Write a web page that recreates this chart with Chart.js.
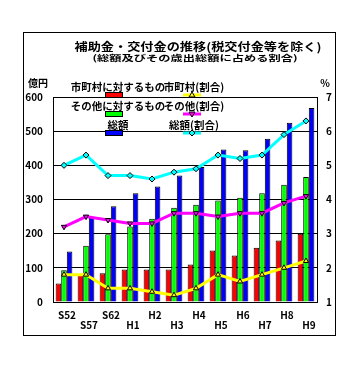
<!DOCTYPE html>
<html lang="ja">
<head>
  <meta charset="UTF-8">
  <title>補助金・交付金の推移</title>
  <script src="https://cdn.jsdelivr.net/npm/chart.js"></script>
  <style>
    html, body { margin: 0; padding: 0; background: #fff; }
    #wrap { width: 352px; height: 382px; }
  </style>
</head>
<body>
  <div id="wrap"><canvas id="chart" width="352" height="382"></canvas></div>

  <script>
    const labels = ['S52', 'S57', 'S62', 'H1', 'H2', 'H3', 'H4', 'H5', 'H6', 'H7', 'H8', 'H9'];
    // 億円
    const shichoson = [54, 81, 84, 95, 95, 95, 110, 151, 136, 159, 180, 200];
    const sonota = [93, 165, 198, 221, 244, 276, 285, 297, 305, 318, 343, 366];
    const sogaku = [148, 246, 280, 318, 338, 370, 395, 446, 444, 478, 525, 568];
    // 割合 %
    const shichosonPct = [1.8, 1.8, 1.4, 1.4, 1.3, 1.2, 1.4, 1.8, 1.6, 1.8, 2.0, 2.2];
    const sonotaPct = [3.2, 3.5, 3.4, 3.3, 3.3, 3.6, 3.6, 3.5, 3.6, 3.6, 3.9, 4.1];
    const sogakuPct = [5.0, 5.3, 4.7, 4.7, 4.6, 4.8, 4.9, 5.3, 5.2, 5.3, 5.9, 6.3];

    const FONT = "'Noto Sans CJK JP', 'Noto Sans', sans-serif";

    // 枠・タイトル・凡例は手描き
    const decor = {
      id: 'decor',
      beforeDraw(chart) {
        const ctx = chart.ctx;
        ctx.save();
        ctx.fillStyle = '#fff';
        ctx.fillRect(0, 0, chart.width, chart.height);
        ctx.strokeStyle = '#000';
        ctx.lineWidth = 1;
        ctx.strokeRect(23.5, 32.5, 312, 303);
        ctx.restore();
      },
      afterDraw(chart) {
        const ctx = chart.ctx;
        ctx.save();
        ctx.fillStyle = '#000';
        ctx.textBaseline = 'middle';
        ctx.textAlign = 'center';

        const fitText = (txt, cx, cy, w, sy, font) => {
          ctx.font = font;
          const m = ctx.measureText(txt).width;
          ctx.save();
          ctx.translate(cx, cy);
          ctx.scale(w / m, sy);
          ctx.fillText(txt, 0, 0);
          ctx.restore();
        };
        fitText('補助金・交付金の推移(税交付金等を除く)', 198, 47, 247, 0.85, 'bold 13px ' + FONT);
        fitText('(総額及びその歳出総額に占める割合)', 195, 58, 205, 0.75, 'bold 11px ' + FONT);

        ctx.font = 'bold 10px ' + FONT;
        ctx.fillText('億円', 38, 83);
        ctx.fillText('%', 325, 83);

        const rows = [
          ['市町村に対するもの', '#ff0000', '市町村(割合)', '#ffff00', 'up'],
          ['その他に対するもの', '#00ff00', 'その他(割合)', '#ff00ff', 'down'],
          ['総額', '#0000ff', '総額(割合)', '#00ffff', 'diamond']
        ];
        rows.forEach((r, i) => {
          const ty = 87 + i * 19, sy = 95 + i * 19;
          ctx.font = 'bold 10.5px ' + FONT;
          ctx.fillStyle = '#000';
          ctx.fillText(r[0], 118, ty);
          ctx.fillText(r[2], 194, ty);
          // bar swatch
          ctx.fillStyle = r[1];
          ctx.fillRect(105, sy - 2, 17, 5);
          ctx.strokeStyle = '#000';
          ctx.lineWidth = 1;
          ctx.strokeRect(105.5, sy - 2.5, 17, 5);
          // line swatch
          ctx.strokeStyle = r[3];
          ctx.lineWidth = 3;
          ctx.beginPath();
          ctx.moveTo(183, sy);
          ctx.lineTo(201, sy);
          ctx.stroke();
          ctx.fillStyle = r[3];
          ctx.strokeStyle = '#000';
          ctx.lineWidth = 1;
          ctx.beginPath();
          if (r[4] === 'up') {
            ctx.moveTo(192, sy - 3); ctx.lineTo(195, sy + 2); ctx.lineTo(189, sy + 2);
          } else if (r[4] === 'down') {
            ctx.moveTo(192, sy + 3); ctx.lineTo(195, sy - 2); ctx.lineTo(189, sy - 2);
          } else {
            ctx.moveTo(192, sy - 3); ctx.lineTo(195, sy); ctx.lineTo(192, sy + 3); ctx.lineTo(189, sy);
          }
          ctx.closePath();
          ctx.fill();
          ctx.stroke();
        });
        ctx.restore();
      }
    };

    const bar = (data, color) => ({
      type: 'bar', data, backgroundColor: color, borderColor: '#000', borderWidth: 1,
      yAxisID: 'y', order: 2, categoryPercentage: 0.76, barPercentage: 1.0
    });
    const line = (data, color, style, rot) => ({
      type: 'line', data, borderColor: color, borderWidth: 3, tension: 0,
      pointStyle: style, pointRotation: rot, pointRadius: 3,
      pointBackgroundColor: color, pointBorderColor: '#000', pointBorderWidth: 1,
      yAxisID: 'y2', order: 1
    });

    new Chart(document.getElementById('chart'), {
      data: {
        labels: labels,
        datasets: [
          bar(shichoson, '#ff0000'),
          bar(sonota, '#00ff00'),
          bar(sogaku, '#0000ff'),
          line(shichosonPct, '#ffff00', 'triangle', 0),
          line(sonotaPct, '#ff00ff', 'triangle', 180),
          line(sogakuPct, '#00ffff', 'rectRot', 0)
        ]
      },
      options: {
        responsive: false,
        animation: false,
        layout: { padding: { top: 97, left: 0, right: 0, bottom: 0 } },
        plugins: { legend: { display: false }, tooltip: { enabled: false } },
        scales: {
          x: {
            grid: { display: false },
            border: { color: '#000', width: 1 },
            ticks: {
              color: '#000', autoSkip: false, maxRotation: 0, padding: 0, labelOffset: 3,
              font: { family: FONT, size: 10, weight: 'bold', lineHeight: 1.0 },
              callback: (v, i) => i % 2 ? ['', labels[i]] : [labels[i], '']
            },
            afterFit: s => { s.height = 80; }
          },
          y: {
            position: 'left', min: 0, max: 600,
            grid: { color: '#000', lineWidth: 1, drawTicks: false },
            border: { color: '#000', width: 1 },
            ticks: { stepSize: 100, color: '#000', padding: 10, font: { family: FONT, size: 10, weight: 'bold' } },
            afterFit: s => { s.width = 53; }
          },
          y2: {
            position: 'right', min: 1, max: 7,
            grid: { display: false, drawTicks: false },
            border: { color: '#000', width: 1 },
            ticks: { stepSize: 1, color: '#000', padding: 9, font: { family: FONT, size: 10, weight: 'bold' } },
            afterFit: s => { s.width = 35; }
          }
        }
      },
      plugins: [decor]
    });
  </script>
</body>
</html>
